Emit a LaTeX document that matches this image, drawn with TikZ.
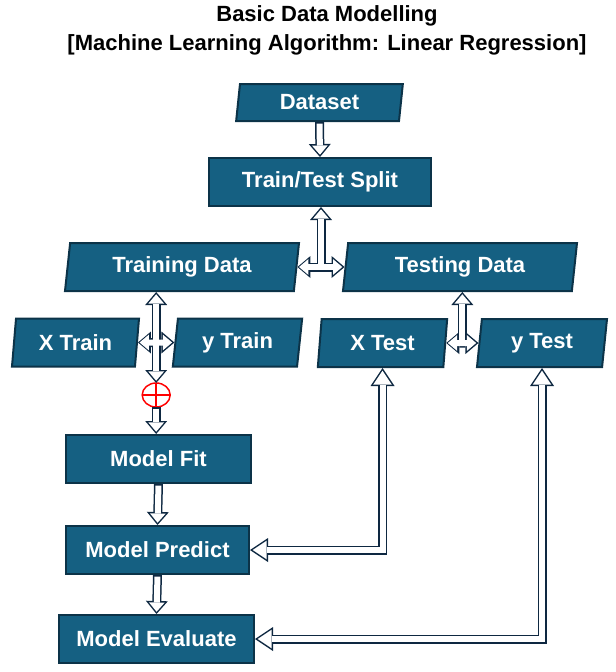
\documentclass[tikz,border=0pt]{standalone}
\usepackage{fontspec}
\setmainfont{Liberation Sans}
\usetikzlibrary{shapes.geometric,arrows.meta,calc}

\definecolor{boxfill}{HTML}{156082}
\definecolor{boxline}{HTML}{0C3348}
\definecolor{arrline}{HTML}{0E2841}

\tikzset{
  lbl/.style={font=\bfseries\fontsize{16.5}{19}\selectfont},
  blk/.style={lbl, draw=boxline, line width=1.5pt, fill=boxfill, text=white, inner sep=0pt, minimum height=36pt},
  databox/.style={blk, trapezium, trapezium left angle=76, trapezium right angle=104, trapezium stretches body},
  procbox/.style={blk, rectangle},
  outarr/.style={line width=6.75pt, draw=arrline, >={Triangle[width=16.5pt,length=9.75pt,line width=0pt]}},
  inarr/.style={line width=4.5pt, draw=white, shorten >=1.7pt, shorten <=1.2pt, >={Triangle[width=11.8pt,length=6.95pt,line width=0pt]}},
  outlong/.style={line width=6.75pt, draw=arrline, >={Triangle[width=18pt,length=13.5pt,line width=0pt]}},
  inlong/.style={line width=4.5pt, draw=white, shorten >=2pt, shorten <=2pt, >={Triangle[width=13.9pt,length=10.4pt,line width=0pt]}},
}

\begin{document}
\begin{tikzpicture}[x=0.75pt, y=-0.75pt]
  \useasboundingbox (0,0) rectangle (616,672);
  %title
  \node[lbl] (title1) at (327,16) {Basic Data Modelling};
  \node[lbl] (title2) at (327,45) {[Machine Learning Algorithm: Linear Regression]};

  \node[databox, minimum width=125pt, minimum height=27.75pt] (dataset) at (319.5,102.5) {Dataset};
  \node[procbox, minimum width=166.5pt] (split) at (320,182) {Train/Test Split};
  \node[databox, minimum width=175.5pt] (train) at (182,267) {Training Data};
  \node[databox, minimum width=175.5pt] (test) at (460,267) {Testing Data};
  \node[databox, minimum width=95.25pt] (xtrain) at (75.5,342.5) {X Train};
  \node[databox, minimum width=97pt] (ytrain) at (237.5,342.5) {y Train};
  \node[databox, minimum width=97pt] (xtest) at (382.5,343) {X Test};
  \node[databox, minimum width=97.5pt] (ytest) at (542,343) {y Test};
  \coordinate (j1) at ($(train.east)!.5!(test.west)$);
  \coordinate (j2) at ($(xtrain.east)!.5!(ytrain.west)$);
  \coordinate (j3) at ($(xtest.east)!.5!(ytest.west)$);

  \node[draw=red, line width=1.1pt, ellipse, minimum width=21pt, minimum height=18pt, inner sep=0pt, outer sep=0pt] (join) at (j2 |- 0,395) {};
  \draw[red, line width=1.1pt] (join.north) -- (join.south) (join.west) -- (join.east);
  \node[procbox, minimum width=138.75pt] (fit) at (158.5,459) {Model Fit};
  \node[procbox, minimum width=137.25pt] (predict) at (157.5,550) {Model Predict};
  \node[procbox, minimum width=146.25pt] (evaluate) at (156.5,639) {Model Evaluate};

  % outlines
  \draw[outarr,->] (dataset.south) -- (split.north);
  \draw[outarr,->] (j1) -- (j1 |- split.south);
  \draw[outarr,<->] (train.east) -- (test.west);
  \draw[outarr,->] (j2) -- (j2 |- train.south);
  \draw[outarr,<->] (xtrain.east) -- (ytrain.west);
  \draw[outarr,->] (j2) -- (join.north);
  \draw[outarr,->] (join.south) -- (join.south |- fit.north);
  \draw[outarr,->] (fit.south) -- (predict.north);
  \draw[outarr,->] (predict.south) -- (evaluate.north);
  \draw[outarr,->] (j3) -- (j3 |- test.south);
  \draw[outarr,<->] (xtest.east) -- (ytest.west);
  \draw[outlong,<->] (xtest.south) |- (predict.east);
  \draw[outlong,<->] (ytest.south) |- (evaluate.east);
  % fills
  \draw[inarr,->] (dataset.south) -- (split.north);
  \draw[inarr,->] (j1) -- (j1 |- split.south);
  \draw[inarr,<->] (train.east) -- (test.west);
  \draw[inarr,->] (j2) -- (j2 |- train.south);
  \draw[inarr,<->] (xtrain.east) -- (ytrain.west);
  \draw[inarr,->] (j2) -- (join.north);
  \draw[inarr,->] (join.south) -- (join.south |- fit.north);
  \draw[inarr,->] (fit.south) -- (predict.north);
  \draw[inarr,->] (predict.south) -- (evaluate.north);
  \draw[inarr,->] (j3) -- (j3 |- test.south);
  \draw[inarr,<->] (xtest.east) -- (ytest.west);
  \draw[inlong,<->] (xtest.south) |- (predict.east);
  \draw[inlong,<->] (ytest.south) |- (evaluate.east);
\end{tikzpicture}
\end{document}
